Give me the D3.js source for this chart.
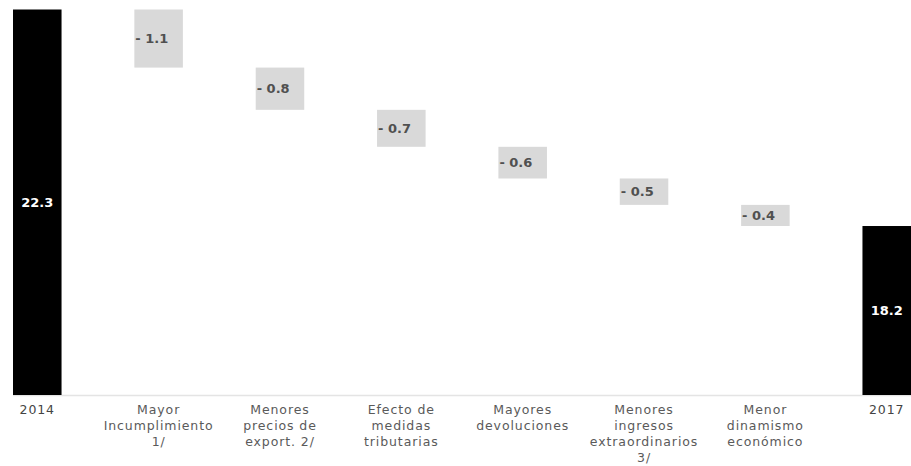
<!DOCTYPE html>
<html>
<head>
<meta charset="utf-8">
<script src="https://cdn.jsdelivr.net/npm/d3@7"></script>
<style>
  html, body { margin: 0; padding: 0; background: #fff; }
  svg { display: block; }
</style>
</head>
<body>
<svg id="chart" width="911" height="466"></svg>
<script>
// Waterfall: 2014 total, six reductions, 2017 total
const categories = [
  "2014",
  "Mayor\nIncumplimiento\n1/",
  "Menores\nprecios de\nexport. 2/",
  "Efecto de\nmedidas\ntributarias",
  "Mayores\ndevoluciones",
  "Menores\ningresos\nextraordinarios\n3/",
  "Menor\ndinamismo\neconómico",
  "2017"
];
const values = [22.3, -1.1, -0.8, -0.7, -0.6, -0.5, -0.4, 18.2];
const kinds = ["total", "delta", "delta", "delta", "delta", "delta", "delta", "total"];
const valueLabels = ["22.3", "- 1.1", "- 0.8", "- 0.7", "- 0.6", "- 0.5", "- 0.4", "18.2"];
const yDomain = [15, 22.3];

const svg = d3.select("#chart");

const x = d3.scaleBand()
  .domain(categories)
  .range([13, 911])
  .paddingInner(0.6)
  .paddingOuter(0);

const y = d3.scaleLinear()
  .domain(yDomain)
  .range([395, 9.5]);

// Build floating segments
let running = 0;
const segs = categories.map((c, i) => {
  let lo, hi;
  if (kinds[i] === "total") {
    lo = yDomain[0];
    hi = values[i];
    running = values[i];
  } else {
    hi = running;
    lo = running + values[i];
    running = lo;
  }
  return { c, lo, hi, kind: kinds[i], label: valueLabels[i] };
});

// baseline
svg.append("line")
  .attr("x1", 13).attr("x2", 911)
  .attr("y1", y(yDomain[0]) + 0.5).attr("y2", y(yDomain[0]) + 0.5)
  .attr("stroke", "#e4e4e4")
  .attr("stroke-width", 1.5);

const g = svg.append("g");

g.selectAll("rect")
  .data(segs)
  .join("rect")
  .attr("x", d => x(d.c))
  .attr("width", x.bandwidth())
  .attr("y", d => y(d.hi))
  .attr("height", d => y(d.lo) - y(d.hi))
  .attr("fill", d => d.kind === "total" ? "#000" : "#d9d9d9");

g.selectAll("text.val")
  .data(segs)
  .join("text")
  .attr("class", "val")
  .attr("x", d => d.kind === "total" ? x(d.c) + x.bandwidth() / 2 : x(d.c) + 1)
  .attr("y", d => (y(d.hi) + y(d.lo)) / 2)
  .attr("dy", "0.35em")
  .attr("text-anchor", d => d.kind === "total" ? "middle" : "start")
  .attr("font-family", "DejaVu Sans, Verdana, sans-serif")
  .attr("font-size", 13)
  .attr("font-weight", "bold")
  .attr("fill", d => d.kind === "total" ? "#fff" : "#505050")
  .text(d => d.label);

// category labels
const xAxis = svg.append("g");
categories.forEach((c, i) => {
  const t = xAxis.append("text")
    .attr("x", x(c) + x.bandwidth() / 2)
    .attr("y", 414)
    .attr("text-anchor", "middle")
    .attr("font-family", "DejaVu Sans, Verdana, sans-serif")
    .attr("font-size", 12.5)
    .attr("letter-spacing", 0.9)
    .attr("fill", kinds[i] === "total" ? "#444" : "#5a5a5a");
  c.split("\n").forEach((line, j) => {
    t.append("tspan")
      .attr("x", x(c) + x.bandwidth() / 2)
      .attr("dy", j === 0 ? 0 : 16)
      .text(line);
  });
});
</script>
</body>
</html>
